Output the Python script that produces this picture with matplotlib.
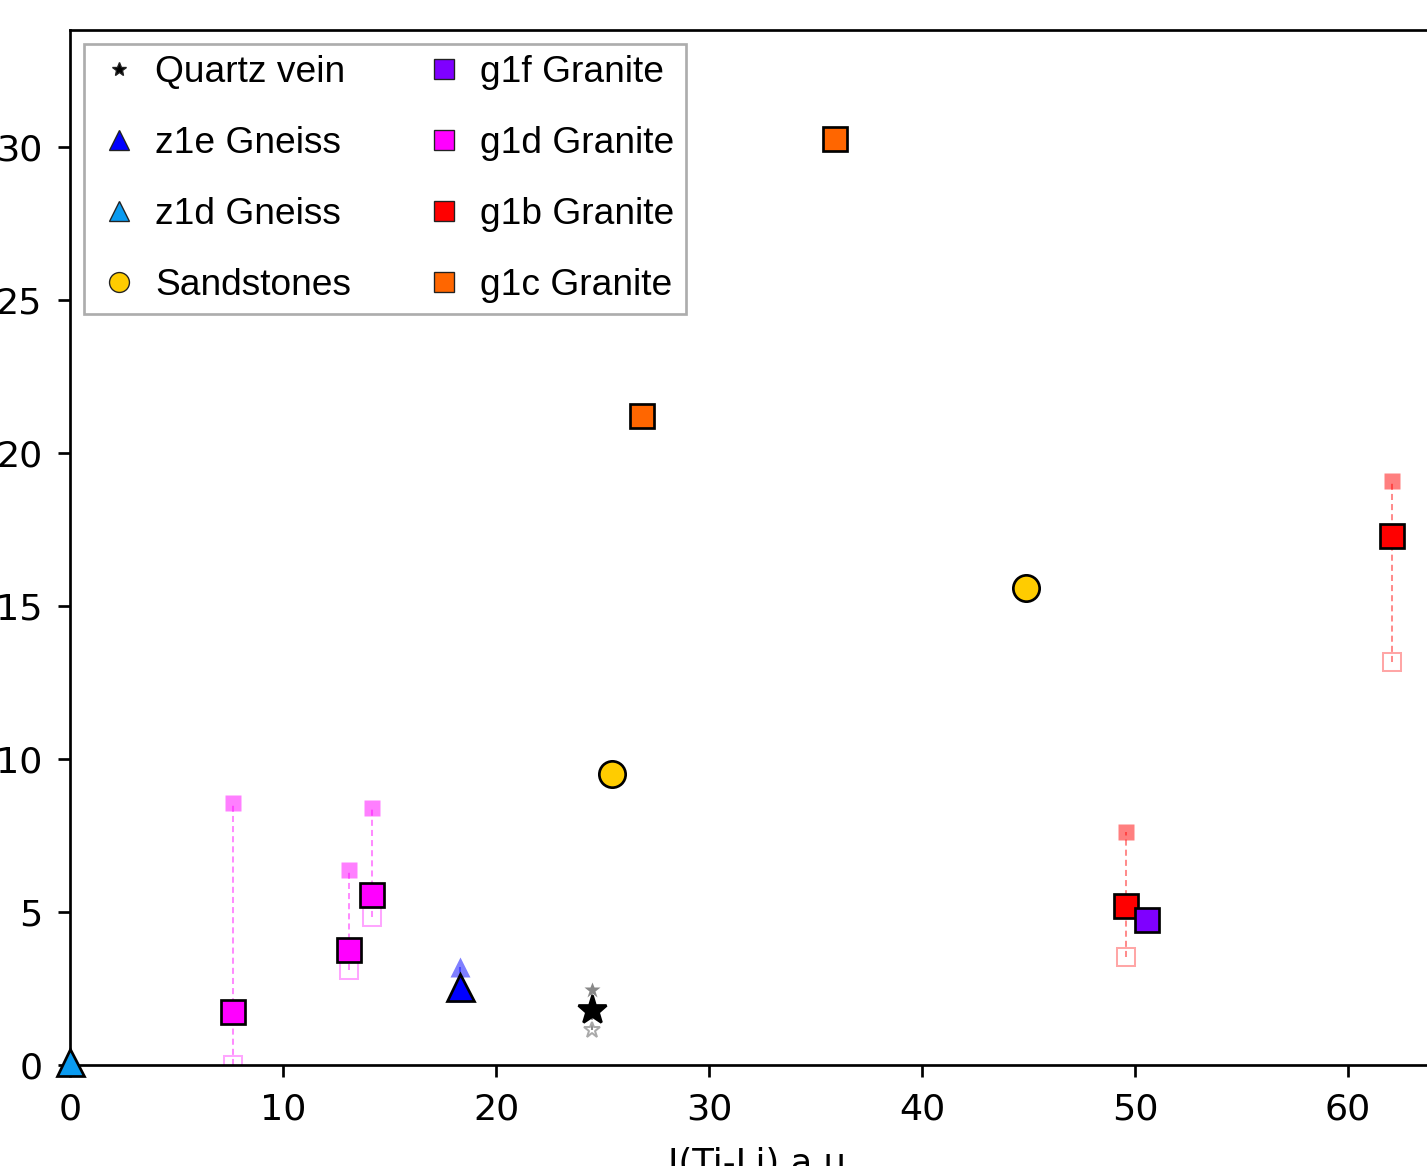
import matplotlib
matplotlib.use("Agg")
import matplotlib.pyplot as plt
from matplotlib.lines import Line2D

# ---- data ----
qv_x = [24.5]; qv_y = [1.8]; qv_hi = [2.45]; qv_lo = [1.15]
z1e_x = [18.3]; z1e_y = [2.55]; z1e_hi = [3.2]; z1e_lo = [2.35]
z1d_x = [0.0]; z1d_y = [0.1]
ss_x = [25.45, 44.9]; ss_y = [9.5, 15.6]
g1f_x = [50.55]; g1f_y = [4.75]
g1d_x = [7.65, 13.1, 14.2]; g1d_y = [1.72, 3.76, 5.55]
g1d_hi = [8.55, 6.37, 8.4]; g1d_lo = [0.0, 3.1, 4.84]
g1b_x = [49.6, 62.05]; g1b_y = [5.2, 17.3]
g1b_hi = [7.6, 19.08]; g1b_lo = [3.52, 13.17]
g1c_x = [26.85, 35.9]; g1c_y = [21.2, 30.27]

labels = ["Quartz vein", "z1e Gneiss", "z1d Gneiss", "Sandstones",
          "g1f Granite", "g1d Granite", "g1b Granite", "g1c Granite"]
xticks = [0, 10, 20, 30, 40, 50, 60]
yticks = [0, 5, 10, 15, 20, 25, 30]

C_QV = "black"; C_Z1E = "#0000FF"; C_Z1D = "#0A9BF0"; C_SS = "#FFCC00"
C_G1F = "#7F00FF"; C_G1D = "#FF00FF"; C_G1B = "#FF0000"; C_G1C = "#FF6600"

DPI = 243
fig = plt.figure(figsize=(1427 / DPI, 1166 / DPI), dpi=DPI)
ax = fig.add_axes([70 / 1427, 101 / 1166, 1384.5 / 1427, 1035 / 1166])
ax.set_xlim(0, 65)
ax.set_ylim(0, 33.82)


def ranged(x, y, hi, lo, marker, color, ms, ms_small, ms_lo, hi_color=None, lo_color=None):
    for xi, hv, lv in zip(x, hi, lo):
        ax.plot([xi, xi], [lv, hv], ls=(0, (3, 2)), lw=0.6, color=color, alpha=0.45, zorder=1)
    ax.plot(x, lo, ls="none", marker=marker, ms=ms_lo, mfc="none",
            mec=lo_color or color, mew=0.6, alpha=0.35 if lo_color is None else 1, zorder=2)
    ax.plot(x, hi, ls="none", marker=marker, ms=ms_small, mfc=hi_color or color,
            mec="none", alpha=0.5 if hi_color is None else 1, zorder=2)
    ax.plot(x, y, ls="none", marker=marker, ms=ms, mfc=color, mec="black", mew=0.8, zorder=3)


ranged(g1d_x, g1d_y, g1d_hi, g1d_lo, "s", C_G1D, 7.4, 4.8, 5.2)
ranged(g1b_x, g1b_y, g1b_hi, g1b_lo, "s", C_G1B, 7.4, 4.8, 5.2)
ranged(z1e_x, z1e_y, z1e_hi, z1e_lo, "^", C_Z1E, 8.0, 6.0, 5.5)
ranged(qv_x, qv_y, qv_hi, qv_lo, "*", C_QV, 9.0, 5.0, 5.0, hi_color="#888888", lo_color="#aaaaaa")

ax.plot(z1d_x, z1d_y, ls="none", marker="^", ms=8.0, mfc=C_Z1D, mec="black", mew=0.8,
        zorder=4, clip_on=False)
ax.plot(ss_x, ss_y, ls="none", marker="o", ms=7.8, mfc=C_SS, mec="black", mew=0.8, zorder=3)
ax.plot(g1f_x, g1f_y, ls="none", marker="s", ms=7.4, mfc=C_G1F, mec="black", mew=0.8, zorder=3)
ax.plot(g1c_x, g1c_y, ls="none", marker="s", ms=7.4, mfc=C_G1C, mec="black", mew=0.8, zorder=3)

ax.set_xticks(xticks)
ax.set_yticks(yticks)
ax.tick_params(labelsize=10.8, length=3.5, width=0.8, pad=4.7)
ax.set_xlabel("I(Ti-Li) a.u.", fontsize=10.5, labelpad=6)
for s in ax.spines.values():
    s.set_linewidth(0.8)

specs = [("*", C_QV, 4.4), ("^", C_Z1E, 5.8), ("^", C_Z1D, 5.8), ("o", C_SS, 5.9),
         ("s", C_G1F, 5.8), ("s", C_G1D, 5.8), ("s", C_G1B, 5.8), ("s", C_G1C, 5.8)]
handles = [Line2D([], [], ls="none", marker=m, ms=s, mfc=c, mec="#222222", mew=0.4)
           for m, c, s in specs]
leg = ax.legend(handles, labels, loc="upper left", ncol=2, frameon=True, fancybox=False,
                prop={"family": "Liberation Sans", "size": 11},
                borderpad=0.3, handlelength=1.3, handletextpad=0.32, columnspacing=1.85,
                labelspacing=0.97, borderaxespad=0.38)
leg.get_frame().set_edgecolor("#999999")
leg.get_frame().set_linewidth(0.8)

fig.savefig("out.png", dpi=DPI)
